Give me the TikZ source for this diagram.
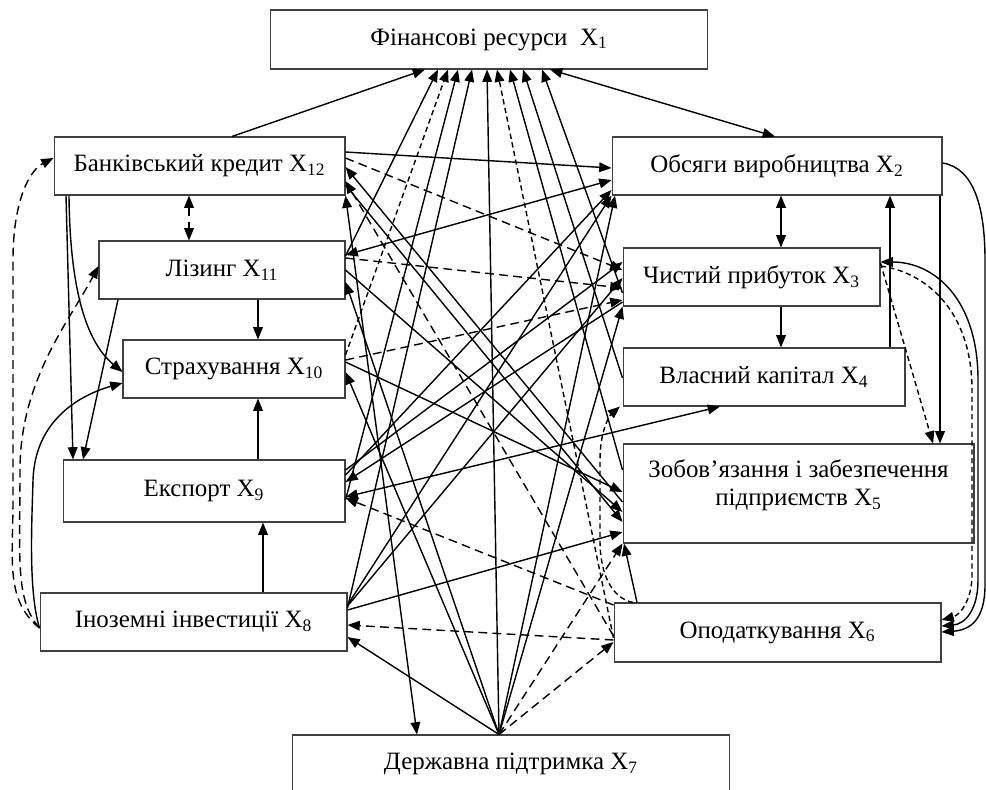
\documentclass[tikz,border=0pt]{standalone}
\usepackage{fontspec}
\setmainfont{Liberation Serif}
\usetikzlibrary{arrows.meta}
\tikzset{
  factor/.style = {draw=black!75, line width=0.6pt, align=center,
                   font=\fontsize{14.2}{16}\selectfont, inner sep=2pt},
  link/.style   = {draw=black, line width=0.8pt,
                   -{Triangle[length=7pt,width=5.5pt]}},
  blink/.style  = {link, {Triangle[length=7pt,width=5.5pt]}-{Triangle[length=7pt,width=5.5pt]}},
  dlink/.style  = {link, dash pattern=on 5pt off 3pt},
  dblink/.style = {blink, dash pattern=on 5pt off 3pt},
  slink/.style  = {link, dash pattern=on 3pt off 2pt},
}
\newcommand{\xs}[1]{X\textsubscript{#1}}

\begin{document}
\begin{tikzpicture}[x=0.02cm, y=-0.02cm]
  \useasboundingbox (0,0) rectangle (986,789);

  % ---------- factors ------------------------------------------------
  \node[factor, minimum width=8.76cm, minimum height=1.18cm] (x1)  at (489,39.5)  {Фінансові ресурси\ \ \xs{1}};
  \node[factor, minimum width=5.82cm, minimum height=1.16cm] (x12) at (199.5,166) {Банківський кредит \xs{12}};
  \node[factor, minimum width=4.92cm, minimum height=1.16cm] (x11) at (222,270)   {Лізинг \xs{11}};
  \node[factor, minimum width=4.44cm, minimum height=1.16cm] (x10) at (234,369)   {Страхування \xs{10}};
  \node[factor, minimum width=5.64cm, minimum height=1.24cm] (x9)  at (204,491)   {Експорт \xs{9}};
  \node[factor, minimum width=6.14cm, minimum height=1.16cm] (x8)  at (193.5,622) {Іноземні інвестиції \xs{8}};
  \node[factor, minimum width=8.76cm, minimum height=1.16cm] (x7)  at (511,764)   {Державна підтримка \xs{7}};
  \node[factor, minimum width=6.60cm, minimum height=1.16cm] (x2)  at (777,166)   {Обсяги виробництва \xs{2}};
  \node[factor, minimum width=5.14cm, minimum height=1.16cm] (x3)  at (751.5,277) {Чистий прибуток \xs{3}};
  \node[factor, minimum width=5.64cm, minimum height=1.16cm] (x4)  at (764,377)   {Власний капітал \xs{4}};
  \node[factor, minimum width=7.02cm, minimum height=1.98cm] (x5)  at (798.5,493.5)
    {Зобов’язання і забезпечення\\підприємств \xs{5}\\[-4pt]};
  \node[factor, minimum width=6.54cm, minimum height=1.18cm] (x6)  at (777.5,632.5) {Оподаткування \xs{6}};

  \coordinate (fan) at (x7.north-|499,0);

  % ---------- left column ---------------------------------------------
  \draw[link]   (x12.north-|232,0) -- (x1.south-|425,0);
  \draw[dblink] (x12.south-|189,0) -- (x11.north-|189,0);
  \draw[link]   (x12.south-|66,0) -- (x9.north-|73,0);
  \draw[link]   (x12.south-|69,0) .. controls (70,300) and (90,345) .. (x10.west|-0,372);
  \draw[link]   (x11.south-|118,0) -- (x9.north-|83,0);
  \draw[link]   (x11.south-|258,0) -- (x10.north-|258,0);
  \draw[link]   (x9.north-|258,0) -- (x10.south-|258,0);
  \draw[link]   (x8.north-|263,0) -- (x9.south-|263,0);
  \draw[dlink]  (x8.west|-0,628) .. controls (5,600) and (13,560) .. (13,500) -- (13,260)
                .. controls (13,200) and (30,170) .. (x12.west|-0,158);
  \draw[dlink]  (x8.west|-0,628) .. controls (15,600) and (20,560) .. (20,470)
                .. controls (20,380) and (70,320) .. (x11.west|-0,266);
  \draw[link]   (x8.west|-0,628) .. controls (28,590) and (32,520) .. (33,480)
                .. controls (35,420) and (80,395) .. (x10.west|-0,383);

  % ---------- right column --------------------------------------------
  \draw[blink]  (x1.south-|550,0) -- (x2.north-|775,0);
  \draw[blink]  (x2.south-|781,0) -- (x3.north-|781,0);
  \draw[link]   (x3.south-|781,0) -- (x4.north-|781,0);
  \draw[link]   (x4.north-|890,0) -- (x2.south-|890,0);
  \draw[link]   (x2.south-|940,0) -- (x5.north-|940,0);
  \draw[slink]  (x3.east|-0,263) -- (x5.north-|933,0);
  \draw[link]   (x2.east|-0,163) .. controls (975,168) and (985,210) .. (985,260) -- (985,585)
                .. controls (985,620) and (970,630) .. (x6.east|-0,632);
  \draw[blink]  (x3.east|-0,262) .. controls (935,262) and (978,300) .. (978,380) -- (978,580)
                .. controls (978,610) and (965,624) .. (x6.east|-0,626);
  \draw[slink]  (x3.east|-0,266) .. controls (925,272) and (972,310) .. (972,390) -- (972,575)
                .. controls (972,600) and (960,615) .. (x6.east|-0,620);
  \draw[slink]  (x6.north-|633,0) .. controls (612,598) and (600,575) .. (600,540) -- (600,460)
                .. controls (600,430) and (610,415) .. (x4.south-|620,0);
  \draw[link]   (x6.north-|637,0) -- (x5.south-|624,0);

  % ---------- towards the financial resources -------------------------
  \draw[link]   (x11.east|-0,256) -- (x1.south-|438,0);
  \draw[slink]  (x10.east|-0,355) -- (x1.south-|448,0);
  \draw[link]   (x9.east|-0,500)  -- (x1.south-|458,0);
  \draw[link]   (x8.east|-0,608)  -- (x1.south-|472,0);
  \draw[link]   (fan)             -- (x1.south-|487,0);
  \draw[slink]  (x6.west|-0,638)  -- (x1.south-|497,0);
  \draw[link]   (x5.west|-0,470)  -- (x1.south-|510,0);
  \draw[link]   (x4.west|-0,378)  -- (x1.south-|523,0);
  \draw[link]   (x3.west|-0,293)  -- (x1.south-|542,0);

  % ---------- crossing links ------------------------------------------
  \draw[link]   (x12.east|-0,152) -- (x2.west|-0,168);
  \draw[blink]  (x11.east|-0,255) -- (x2.west|-0,180);
  \draw[link]   (x9.east|-0,475)  -- (x2.west|-0,190);
  \draw[link]   (x8.east|-0,605)  -- (x2.south west);
  \draw[link]   (fan)             -- (x2.south-|615,0);
  \draw[dlink]  (x12.east|-0,158) -- (x3.west|-0,270);
  \draw[dlink]  (x11.east|-0,258) -- (x3.west|-0,288);
  \draw[dlink]  (x10.east|-0,360) -- (x3.west|-0,300);
  \draw[link]   (x9.east|-0,470)  -- (x3.west|-0,262);
  \draw[link]   (x8.east|-0,606)  -- (x3.west|-0,278);
  \draw[link]   (fan)             -- (x3.south west);
  \draw[link]   (x3.west|-0,302)  -- (x9.east|-0,482);
  \draw[link]   (x5.west|-0,502)  -- (x12.east|-0,167);
  \draw[dlink]  (x6.west|-0,636)  -- (x12.east|-0,181);
  \draw[blink]  (x12.south east)  -- (x7.north-|417,0);
  \draw[link]   (fan)             -- (x11.east|-0,282);
  \draw[link]   (fan)             -- (x10.east|-0,372);
  \draw[link]   (x10.east|-0,362) -- (x5.west|-0,492);
  \draw[link]   (x11.east|-0,270) -- (x5.west|-0,512);
  \draw[link]   (x12.east|-0,185) -- (x5.west|-0,522);
  \draw[dlink]  (x6.west|-0,605)  -- (x9.east|-0,498);
  \draw[blink]  (x9.east|-0,497)  -- (x4.south-|720,0);
  \draw[link]   (fan)             -- (x8.east|-0,637);
  \draw[dlink]  (x6.west|-0,640)  -- (x8.east|-0,625);
  \draw[link]   (x8.east|-0,610)  -- (x5.west|-0,532);
  \draw[dlink]  (fan)             -- (x5.south west);
  \draw[dlink]  (fan)             -- (x6.west|-0,642);

\end{tikzpicture}
\end{document}
